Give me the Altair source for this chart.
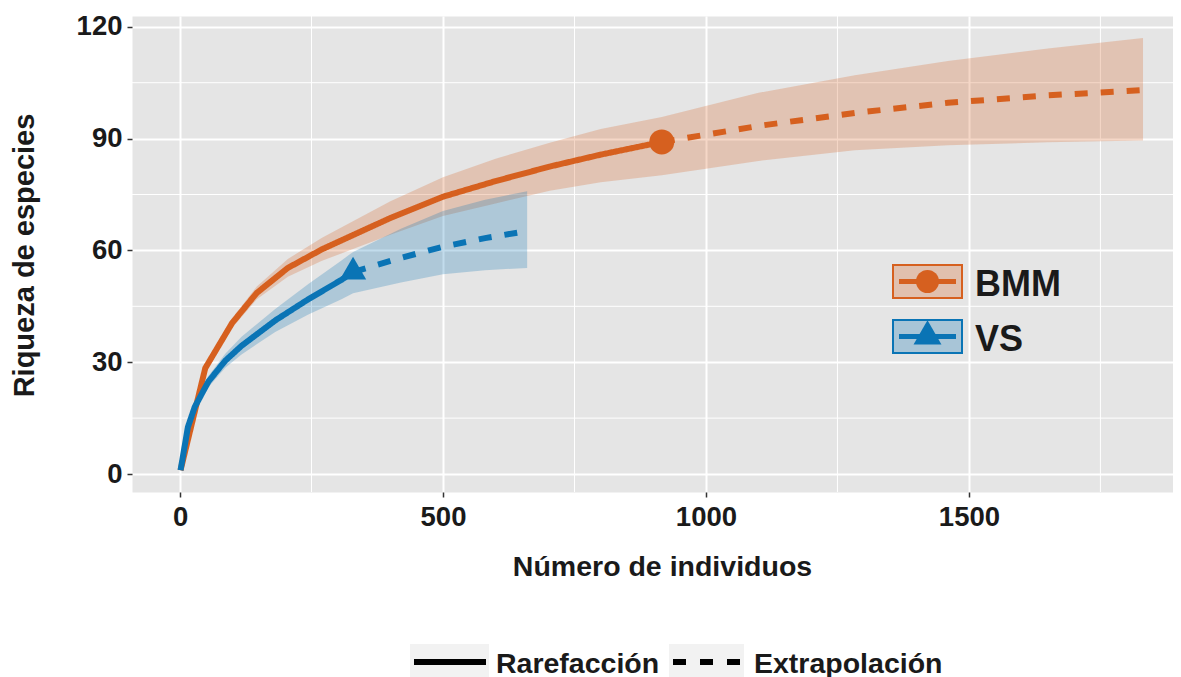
import altair as alt
import pandas as pd

# ---------------- data ----------------
groups = ["BMM", "VS"]
colors = ["#D6601F", "#0A74B5"]
methods = ["Rarefacción", "Extrapolación"]

bmm_rare_x = [1, 48, 99, 146, 205, 270, 400, 500, 600, 703, 800, 916]
bmm_rare_y = [1, 28.4, 40.5, 48.6, 55.3, 60.3, 68.7, 74.4, 78.6, 82.5, 85.7, 89.1]
bmm_rare_lo = [1, 27.6, 39.2, 46.9, 52.9, 57.2, 64.2, 69.2, 72.6, 76.0, 78.3, 80.2]
bmm_rare_hi = [1, 29.2, 41.8, 50.3, 57.7, 63.4, 73.2, 79.6, 84.6, 88.9, 92.6, 95.8]

bmm_ext_x = [916, 1100, 1283, 1460, 1650, 1831]
bmm_ext_y = [89.1, 93.4, 96.9, 99.6, 101.6, 103.0]
bmm_ext_lo = [80.2, 84.0, 86.9, 88.2, 89.0, 89.5]
bmm_ext_hi = [95.8, 102.3, 107.0, 110.8, 114.2, 117.0]

vs_rare_x = [1, 15, 28, 54, 86, 117, 181, 244, 307, 329]
vs_rare_y = [1, 12.6, 18.0, 24.8, 30.4, 34.4, 41.2, 46.9, 52.1, 54.2]
vs_rare_lo = [1, 11.9, 17.0, 23.3, 28.5, 32.1, 38.1, 42.8, 46.9, 48.5]
vs_rare_hi = [1, 13.3, 19.0, 26.3, 32.3, 36.8, 44.3, 51.0, 57.3, 59.6]

vs_ext_x = [329, 420, 500, 580, 660]
vs_ext_y = [54.2, 58.0, 61.0, 63.3, 65.2]
vs_ext_lo = [48.5, 51.4, 53.6, 54.7, 55.3]
vs_ext_hi = [59.6, 65.8, 70.6, 73.6, 75.9]

obs_x = [916, 329]
obs_y = [89.1, 54.2]

x_ticks = [0, 500, 1000, 1500]
x_minor = [250, 750, 1250, 1750]
y_ticks = [0, 30, 60, 90, 120]
y_minor = [15, 45, 75, 105]

# ---------------- tables ----------------
rows = []
def add(group, method, xs, ys, los, his):
    for a, b, c, d in zip(xs, ys, los, his):
        rows.append({"group": group, "method": method, "m": a, "qD": b, "lo": c, "hi": d})

add("BMM", methods[0], bmm_rare_x, bmm_rare_y, bmm_rare_lo, bmm_rare_hi)
add("BMM", methods[1], bmm_ext_x, bmm_ext_y, bmm_ext_lo, bmm_ext_hi)
add("VS", methods[0], vs_rare_x, vs_rare_y, vs_rare_lo, vs_rare_hi)
add("VS", methods[1], vs_ext_x, vs_ext_y, vs_ext_lo, vs_ext_hi)
df = pd.DataFrame(rows)
obs = pd.DataFrame({"group": groups, "m": obs_x, "qD": obs_y})

FONT = "Liberation Sans"
TXT = "#1a1a1a"
TRI = "M0,-1.155L1,0.577L-1,0.577Z"

xscale = alt.Scale(domain=[-91.3, 1888], nice=False, zero=False)
yscale = alt.Scale(domain=[-4.83, 122.9], nice=False, zero=False)

xaxis = alt.Axis(values=x_ticks, format="d", title="Número de individuos", grid=True,
                 gridColor="white", gridWidth=2, domain=False, tickColor="#333333",
                 tickWidth=1.5, tickSize=5,
                 labelFont=FONT, labelFontSize=27.5, labelFontWeight="bold", labelColor=TXT,
                 labelBaseline="alphabetic", labelPadding=28, labelFlush=False,
                 titleFont=FONT, titleFontSize=28.5, titleFontWeight="bold", titleColor=TXT,
                 titleBaseline="alphabetic", titleX=530, titleY=83, titleAlign="center")
yaxis = alt.Axis(values=y_ticks, format="d", title="Riqueza de especies", grid=True,
                 gridColor="white", gridWidth=2, domain=False, tickColor="#333333",
                 tickWidth=1.5, tickSize=5,
                 labelFont=FONT, labelFontSize=27.5, labelFontWeight="bold", labelColor=TXT,
                 labelPadding=5, labelBaseline="middle",
                 titleFont=FONT, titleFontSize=29, titleFontWeight="bold", titleColor=TXT,
                 titleAngle=-90, titleBaseline="alphabetic", titleX=-99, titleY=239,
                 titleAlign="center")

def X(field):
    return alt.X(f"{field}:Q", scale=xscale, axis=xaxis)

def Y(field):
    return alt.Y(f"{field}:Q", scale=yscale, axis=yaxis)

color = alt.Color("group:N", scale=alt.Scale(domain=groups, range=colors), legend=None)

minor_v = alt.Chart(pd.DataFrame({"m": x_minor})).mark_rule(color="white", strokeWidth=1).encode(x=X("m"))
minor_h = alt.Chart(pd.DataFrame({"qD": y_minor})).mark_rule(color="white", strokeWidth=1).encode(y=Y("qD"))

band = alt.Chart(df).mark_area(opacity=0.25).encode(
    x=X("m"), y=Y("lo"), y2="hi", color=color, detail="group:N")

lines = alt.Chart(df).mark_line(strokeWidth=6, strokeCap="butt").encode(
    x=X("m"), y=Y("qD"), color=color,
    strokeDash=alt.StrokeDash("method:N", scale=alt.Scale(domain=methods, range=[[1, 0], [13, 13]]),
                              legend=None))

points = alt.Chart(obs).mark_point(filled=True, opacity=1).encode(
    x=X("m"), y=Y("qD"), color=color,
    shape=alt.Shape("group:N", scale=alt.Scale(domain=groups, range=["circle", TRI]), legend=None),
    size=alt.Size("group:N", scale=alt.Scale(domain=groups, range=[625, 690]), legend=None))

layers = [minor_v, minor_h, band, lines, points]

# ---------------- inside legend (groups) ----------------
leg_shapes = ["circle", TRI]
leg_sizes = [530, 780]
for i, (g, c) in enumerate(zip(groups, colors)):
    cy = 265.5 + 55 * i
    d = pd.DataFrame({"label": [g]})
    base = alt.Chart(d)
    layers.append(base.mark_rect(fill=c, fillOpacity=0.28, stroke=c, strokeWidth=2).encode(
        x=alt.value(761), x2=alt.value(830), y=alt.value(cy - 16.5), y2=alt.value(cy + 16.5)))
    layers.append(base.mark_rule(color=c, strokeWidth=5).encode(
        x=alt.value(767), x2=alt.value(824), y=alt.value(cy)))
    layers.append(base.mark_point(filled=True, opacity=1, color=c, shape=leg_shapes[i],
                                  size=leg_sizes[i]).encode(x=alt.value(795.5), y=alt.value(cy)))
    layers.append(base.mark_text(align="left", baseline="middle", font=FONT, fontSize=36,
                                 fontWeight="bold", color=TXT).encode(
        x=alt.value(843), y=alt.value(cy + 3), text="label:N"))

# ---------------- bottom legend (methods) ----------------
ly = 646
leg_x = [(278, 357, 282, 354, 364), (537, 612, 541, 608, 622)]
leg_dash = [[1, 0], [13, 14]]
for i, mth in enumerate(methods):
    bx0, bx1, lx0, lx1, tx = leg_x[i]
    d = pd.DataFrame({"label": [mth]})
    base = alt.Chart(d)
    layers.append(base.mark_rect(fill="#F2F2F2").encode(
        x=alt.value(bx0), x2=alt.value(bx1), y=alt.value(ly - 18), y2=alt.value(ly + 18)))
    layers.append(base.mark_rule(color="black", strokeWidth=6, strokeDash=leg_dash[i],
                                 strokeCap="butt").encode(
        x=alt.value(lx0), x2=alt.value(lx1), y=alt.value(ly)))
    layers.append(base.mark_text(align="left", baseline="middle", font=FONT, fontSize=28.5,
                                 fontWeight="bold", color=TXT).encode(
        x=alt.value(tx), y=alt.value(ly + 1.5), text="label:N"))

chart = alt.layer(*layers).properties(
    width=1041, height=476,
    autosize=alt.AutoSizeParams(type="none"),
    padding={"left": 124, "top": 8, "right": 0, "bottom": 185},
    background="white",
).configure_view(fill="#E5E5E5", stroke="transparent")

chart.save("out.html", embed_options={"renderer": "svg", "actions": False})
